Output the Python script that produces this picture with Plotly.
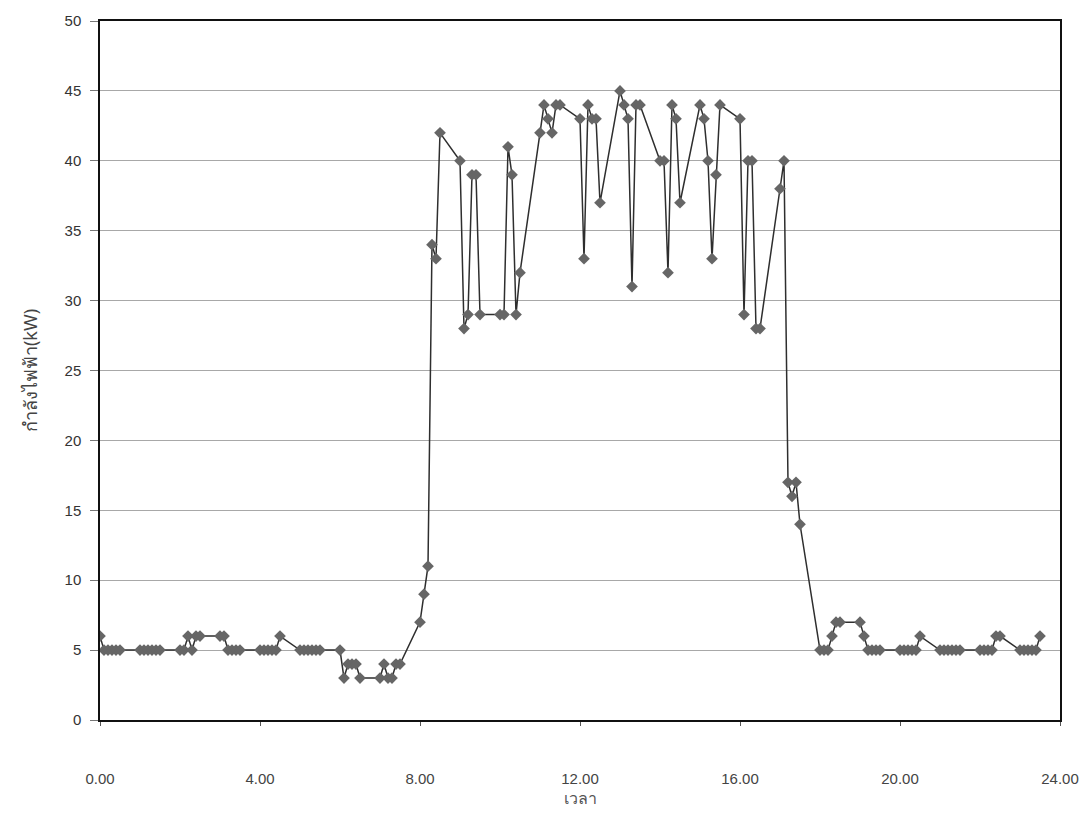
import plotly.graph_objects as go

# Time labels recorded as hour.minute (10-minute samples, first half hour of each hour)
hours = list(range(24))
minutes = [0, 10, 20, 30, 40, 50]

# Power (kW) per hour, six samples each (minutes 00..50)
power_by_hour = [
    [6, 5, 5, 5, 5, 5],        # 0
    [5, 5, 5, 5, 5, 5],        # 1
    [5, 5, 6, 5, 6, 6],        # 2
    [6, 6, 5, 5, 5, 5],        # 3
    [5, 5, 5, 5, 5, 6],        # 4
    [5, 5, 5, 5, 5, 5],        # 5
    [5, 3, 4, 4, 4, 3],        # 6
    [3, 4, 3, 3, 4, 4],        # 7
    [7, 9, 11, 34, 33, 42],    # 8
    [40, 28, 29, 39, 39, 29],  # 9
    [29, 29, 41, 39, 29, 32],  # 10
    [42, 44, 43, 42, 44, 44],  # 11
    [43, 33, 44, 43, 43, 37],  # 12
    [45, 44, 43, 31, 44, 44],  # 13
    [40, 40, 32, 44, 43, 37],  # 14
    [44, 43, 40, 33, 39, 44],  # 15
    [43, 29, 40, 40, 28, 28],  # 16
    [38, 40, 17, 16, 17, 14],  # 17
    [5, 5, 5, 6, 7, 7],        # 18
    [7, 6, 5, 5, 5, 5],        # 19
    [5, 5, 5, 5, 5, 6],        # 20
    [5, 5, 5, 5, 5, 5],        # 21
    [5, 5, 5, 5, 6, 6],        # 22
    [5, 5, 5, 5, 5, 6],        # 23
]

x_ticks = [0, 4, 8, 12, 16, 20, 24]
y_ticks = [0, 5, 10, 15, 20, 25, 30, 35, 40, 45, 50]

times = []
power = []
for h, row in zip(hours, power_by_hour):
    for m, v in zip(minutes, row):
        times.append(h + m / 100.0)
        power.append(v)

font = "Liberation Sans, Arial, sans-serif"

fig = go.Figure()
fig.add_trace(go.Scatter(
    x=times, y=power, mode="lines+markers",
    line=dict(color="#2e2e2e", width=1.5),
    marker=dict(symbol="diamond", size=9, color="#666666",
                line=dict(width=0)),
    showlegend=False,
))

fig.update_layout(
    width=1091, height=819,
    margin=dict(l=100, r=27, t=21, b=99),
    paper_bgcolor="white", plot_bgcolor="white",
    font=dict(family=font, size=15, color="#333333"),
    xaxis=dict(
        range=[0, 24], tickvals=x_ticks,
        ticktext=[f"{v:.2f}" for v in x_ticks],
        showgrid=False, zeroline=False,
        showline=True, linecolor="#111111", linewidth=1.5, mirror=True,
        ticks="outside", ticklen=4, tickcolor="#555555",
        ticklabelstandoff=40,
        tickfont=dict(family=font, size=15, color="#444444"),
        title=dict(text="เวลา", standoff=2,
                   font=dict(family="Noto Sans, sans-serif", size=16, color="#555555")),
    ),
    yaxis=dict(
        range=[0, 50], tickvals=y_ticks,
        showgrid=True, gridcolor="#a8a8a8", gridwidth=1.3,
        zeroline=False,
        showline=True, linecolor="#111111", linewidth=1.5, mirror=True,
        ticks="outside", ticklen=8, tickcolor="#777777",
        ticklabelstandoff=6,
        tickfont=dict(family=font, size=15, color="#333333"),
        title=dict(text="กำลังไฟฟ้า(kW)", standoff=22,
                   font=dict(family="Noto Sans, sans-serif", size=18, color="#444444")),
    ),
)

fig.write_html("out.html")
